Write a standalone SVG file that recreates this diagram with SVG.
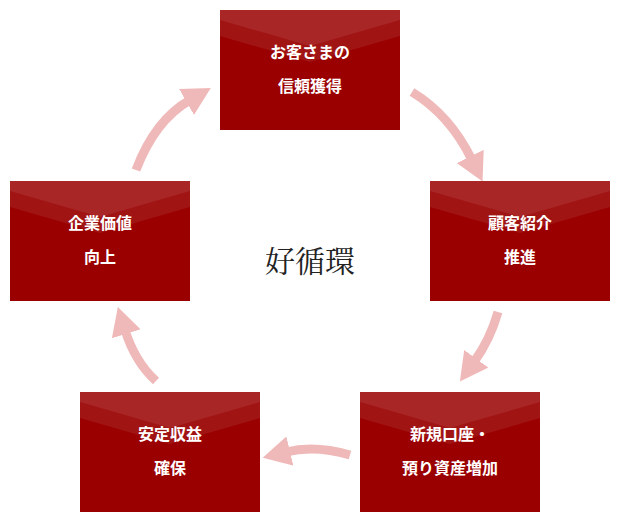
<svg xmlns="http://www.w3.org/2000/svg" width="620" height="523" viewBox="0 0 620 523">
<style>
.box{fill:#9a0000}.h1{fill:#fff;opacity:0.08}.t{font-family:"Noto Sans CJK JP",sans-serif;font-weight:bold;font-size:16px;fill:#fff;text-anchor:middle}
.arr{fill:none;stroke:#f0b9b9;stroke-width:9;marker-end:url(#ah)}
</style>
<defs>
<marker id="ah" markerUnits="userSpaceOnUse" markerWidth="30" markerHeight="30" refX="4" refY="15" orient="auto"><path d="M0,0 L28,15 L0,30 Z" fill="#f0b9b9"/></marker>
<g id="env"><rect class="box" width="180" height="120"/><path class="h1" d="M0,0H180V26L90,52L0,26Z"/><path class="h1" d="M0,0H180V10L90,36L0,10Z"/><path class="h1" d="M0,0H180V0L0,0Z"/></g>
</defs>
<g id="connectors">
<path class="arr" d="M412,92 Q450,115 472,160"/>
<path class="arr" d="M498,312 Q490,340 474,362"/>
<path class="arr" d="M350,455 Q315,445 286,452"/>
<path class="arr" d="M156,381 Q135,362 125,330"/>
<path class="arr" d="M136,170 Q155,120 190,100"/>
</g>
<g id="n1"><use href="#env" x="220" y="10"/><text class="t" x="310" y="58">お客さまの</text><text class="t" x="310" y="92">信頼獲得</text></g>
<g id="n2"><use href="#env" x="430" y="181"/><text class="t" x="520" y="229">顧客紹介</text><text class="t" x="520" y="263">推進</text></g>
<g id="n3"><use href="#env" x="360" y="392"/><text class="t" x="450" y="440">新規口座・</text><text class="t" x="450" y="474">預り資産増加</text></g>
<g id="n4"><use href="#env" x="80" y="392"/><text class="t" x="170" y="440">安定収益</text><text class="t" x="170" y="474">確保</text></g>
<g id="n5"><use href="#env" x="10" y="181"/><text class="t" x="100" y="229">企業価値</text><text class="t" x="100" y="263">向上</text></g>
<text x="310" y="272" text-anchor="middle" font-family="Noto Serif CJK JP,'Noto Sans CJK JP',serif" font-size="30" fill="#222">好循環</text>
</svg>
